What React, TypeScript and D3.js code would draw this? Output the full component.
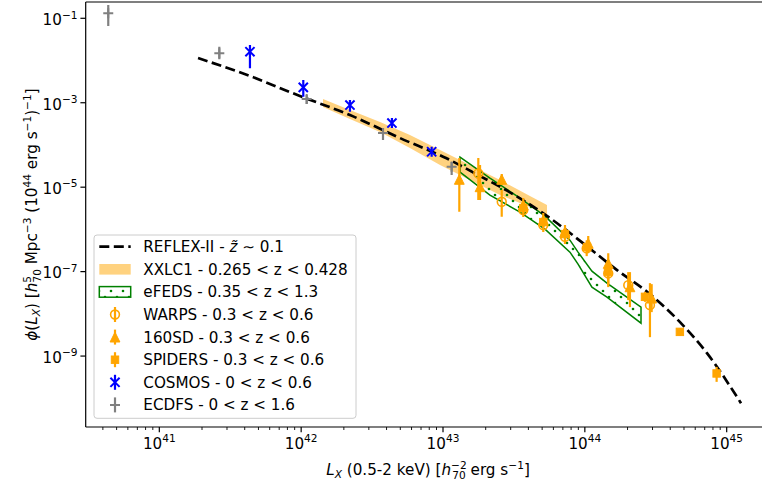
import React from 'react';
import * as d3 from 'd3';

const W = 762;
const H = 487;
const PL = 85.7, PR = 763, PT = 2, PB = 427;

// ---------- data (log10 values) ----------
// REFLEX-II dashed curve
const reflexLgL = [41.273, 41.639, 41.991, 42.344, 42.696, 43.021, 43.261, 43.493, 43.754, 43.987, 44.227, 44.459, 44.671, 44.861, 45.101];
const reflexLgPhi = [-1.941, -2.367, -2.841, -3.291, -3.836, -4.310, -4.737, -5.163, -5.732, -6.325, -6.964, -7.533, -8.197, -8.931, -10.116];

// XXLC1 band
const xxlLgL = [42.154, 42.344, 42.556, 42.767, 42.979, 43.190, 43.402, 43.613, 43.733];
const xxlLgHi = [-2.912, -3.173, -3.457, -3.765, -4.121, -4.476, -4.832, -5.211, -5.424];
const xxlLgLo = [-3.102, -3.386, -3.694, -4.073, -4.476, -4.832, -5.187, -5.472, -5.661];

// eFEDS band
const efedsLgL = [43.120, 43.331, 43.543, 43.719, 43.895, 43.952, 44.050, 44.156, 44.396];
const efedsLgHi = [-4.287, -4.785, -5.258, -5.685, -6.254, -6.538, -6.988, -7.273, -7.841];
const efedsLgLo = [-4.642, -5.187, -5.590, -5.993, -6.538, -6.822, -7.367, -7.604, -8.220];

// WARPS
const warpsLgL = [43.249, 43.414, 43.566, 43.707, 43.860, 44.013, 44.165, 44.306, 44.459];
const warpsLgPhi = [-4.673, -5.346, -5.543, -5.898, -6.175, -6.450, -7.043, -7.320, -7.794];
const warpsLgHi = [-4.310, -5.069, -5.377, -5.732, -5.993, -6.254, -6.775, -7.012, -7.273];
const warpsLgLo = [-5.306, -5.701, -5.709, -6.064, -6.348, -6.633, -7.320, -7.676, -8.552];

// 160SD
const sdLgL = [43.115, 43.261, 43.414, 43.566, 43.707, 43.860, 44.024, 44.165, 44.318, 44.471];
const sdLgPhi = [-4.815, -4.991, -4.815, -5.424, -5.780, -6.057, -6.332, -6.806, -7.360, -7.628];
const sdLgHi = [-4.310, -4.476, -4.690, -5.258, -5.614, -5.898, -6.159, -6.562, -7.012, -7.296];
const sdLgLo = [-5.583, -5.306, -4.950, -5.614, -5.945, -6.230, -6.538, -7.367, -7.841, -7.959];

// SPIDERS
const spLgL = [43.566, 43.707, 43.860, 44.015, 44.163, 44.424, 44.670, 44.929];
const spLgPhi = [-5.495, -5.827, -6.111, -6.419, -7.012, -7.597, -8.427, -9.412];
const spLgHi = [-5.377, -5.709, -5.993, -6.301, -6.846, -7.479, -8.339, -9.256];
const spLgLo = [-5.614, -5.945, -6.230, -6.538, -7.178, -7.716, -8.512, -9.611];

// COSMOS
const cosLgL = [41.639, 42.015, 42.344, 42.640, 42.920];
const cosLgPhi = [-1.791, -2.635, -3.055, -3.481, -4.161];
const cosLgHi = [-1.633, -2.462, -2.936, -3.363, -4.043];
const cosLgLo = [-2.185, -2.858, -3.213, -3.600, -4.280];

// ECDFS
const ecLgL = [40.640, 41.423, 42.039, 42.577, 43.061];
const ecLgPhi = [-0.882, -1.829, -2.912, -3.718, -4.517];
const ecLgHi = [-0.685, -1.673, -2.818, -3.600, -4.398];
const ecLgLo = [-1.182, -1.972, -3.031, -3.884, -4.713];

const xTickExps = [41, 42, 43, 44, 45];
const yTickExps = [-1, -3, -5, -7, -9];

const legendLabels = [
  'REFLEX-II',
  'XXLC1 - 0.265 < z < 0.428',
  'eFEDS - 0.35 < z < 1.3',
  'WARPS - 0.3 < z < 0.6',
  '160SD - 0.3 < z < 0.6',
  'SPIDERS - 0.3 < z < 0.6',
  'COSMOS - 0 < z < 0.6',
  'ECDFS - 0 < z < 1.6',
];

const ORANGE = '#FFA500';
const GREEN = '#008000';
const BLUE = '#0000FF';
const GRAY = '#808080';
const FS = 15.2;
const SFS = 10.6;

const p10 = (v: number) => Math.pow(10, v);

const x = d3.scaleLog().domain([p10(40.481), p10(45.256)]).range([PL, PR]);
const y = d3.scaleLog().domain([p10(-10.68), p10(-0.614)]).range([PB, PT]);

type Pt = { L: number; phi: number; hi: number; lo: number };
const pts = (L: number[], p: number[], hi: number[], lo: number[]): Pt[] =>
  L.map((v, i) => ({ L: p10(v), phi: p10(p[i]), hi: p10(hi[i]), lo: p10(lo[i]) }));

const warps = pts(warpsLgL, warpsLgPhi, warpsLgHi, warpsLgLo);
const sd160 = pts(sdLgL, sdLgPhi, sdLgHi, sdLgLo);
const spiders = pts(spLgL, spLgPhi, spLgHi, spLgLo);
const cosmos = pts(cosLgL, cosLgPhi, cosLgHi, cosLgLo);
const ecdfs = pts(ecLgL, ecLgPhi, ecLgHi, ecLgLo);

const band = (L: number[], hi: number[], lo: number[]) =>
  L.map((v, i) => ({ L: p10(v), hi: p10(hi[i]), lo: p10(lo[i]) }));

const areaGen = d3
  .area<{ L: number; hi: number; lo: number }>()
  .x((d) => x(d.L))
  .y0((d) => y(d.lo))
  .y1((d) => y(d.hi));

const lineGen = d3
  .line<{ L: number; phi: number }>()
  .x((d) => x(d.L))
  .y((d) => y(d.phi))
  .curve(d3.curveMonotoneX);

const reflex = reflexLgL.map((v, i) => ({ L: p10(v), phi: p10(reflexLgPhi[i]) }));

type MarkerKind = 'circle' | 'tri' | 'square' | 'x' | 'plus';

const Marker = ({ kind, cx, cy, color }: { kind: MarkerKind; cx: number; cy: number; color: string }) => {
  if (kind === 'circle')
    return <circle cx={cx} cy={cy} r={4.4} fill="none" stroke={color} strokeWidth={1.6} />;
  if (kind === 'tri') {
    const s = 4.9;
    return <path d={`M${cx},${cy - s}L${cx - s},${cy + s}L${cx + s},${cy + s}Z`} fill={color} stroke={color} strokeWidth={1} />;
  }
  if (kind === 'square') {
    const s = 3.7;
    return <rect x={cx - s} y={cy - s} width={2 * s} height={2 * s} fill={color} stroke={color} strokeWidth={1} />;
  }
  if (kind === 'x') {
    const s = 4.6;
    return (
      <path d={`M${cx - s},${cy - s}L${cx + s},${cy + s}M${cx - s},${cy + s}L${cx + s},${cy - s}`} stroke={color} strokeWidth={2} fill="none" />
    );
  }
  const s = 5;
  return <path d={`M${cx - s},${cy}L${cx + s},${cy}M${cx},${cy - s}L${cx},${cy + s}`} stroke={color} strokeWidth={2} fill="none" />;
};

const Series = ({ data, kind, color }: { data: Pt[]; kind: MarkerKind; color: string }) => (
  <g>
    {data.map((d, i) => (
      <line key={'e' + i} x1={x(d.L)} x2={x(d.L)} y1={y(d.hi)} y2={y(d.lo)} stroke={color} strokeWidth={2.2} />
    ))}
    {data.map((d, i) => (
      <Marker key={'m' + i} kind={kind} cx={x(d.L)} cy={y(d.phi)} color={color} />
    ))}
  </g>
);

export default function App() {
  const xMinor: number[] = [];
  for (let e = 40; e <= 45; e++) {
    for (let m = 2; m <= 9; m++) {
      const v = m * p10(e);
      if (v >= x.domain()[0] && v <= x.domain()[1]) xMinor.push(v);
    }
  }
  const legX = 94, legY = 235, legW = 262, legH = 183.3;
  const rowY = (i: number) => 246.7 + 22.6 * i;
  const hx0 = 99.3, hx1 = 130.7, hc = 115;
  const legMarkers: { kind: MarkerKind; color: string }[] = [
    { kind: 'circle', color: ORANGE },
    { kind: 'tri', color: ORANGE },
    { kind: 'square', color: ORANGE },
    { kind: 'x', color: BLUE },
    { kind: 'plus', color: GRAY },
  ];

  return (
    <svg
      width={W}
      height={H}
      style={{ position: 'absolute', left: 0, top: 0, background: '#fff' }}
      fontFamily="'DejaVu Sans', sans-serif"
    >
      <defs>
        <pattern id="dots" width={12} height={12} patternUnits="userSpaceOnUse">
          <circle cx={3} cy={3} r={1.3} fill={GREEN} />
          <circle cx={9} cy={9} r={1.3} fill={GREEN} />
        </pattern>
        <clipPath id="plotclip">
          <rect x={PL} y={PT} width={PR - PL} height={PB - PT} />
        </clipPath>
      </defs>
      <rect x={0} y={0} width={W} height={H} fill="#fff" />

      <g clipPath="url(#plotclip)">
        <path d={areaGen(band(xxlLgL, xxlLgHi, xxlLgLo)) || ''} fill={ORANGE} fillOpacity={0.5} />
        <path d={areaGen(band(efedsLgL, efedsLgHi, efedsLgLo)) || ''} fill="url(#dots)" stroke={GREEN} strokeWidth={1.5} />
        <path d={lineGen(reflex) || ''} fill="none" stroke="#000" strokeWidth={2.7} strokeDasharray="10,4.5" />
        <Series data={warps} kind="circle" color={ORANGE} />
        <Series data={sd160} kind="tri" color={ORANGE} />
        <Series data={spiders} kind="square" color={ORANGE} />
        <Series data={cosmos} kind="x" color={BLUE} />
        <Series data={ecdfs} kind="plus" color={GRAY} />
      </g>

      {/* axes */}
      <line x1={PL} x2={PL} y1={PT} y2={PB} stroke="#000" strokeWidth={1.2} />
      <line x1={PL} x2={W} y1={PB} y2={PB} stroke="#000" strokeWidth={1.2} />
      <line x1={PL} x2={W} y1={PT} y2={PT} stroke="#000" strokeWidth={1.2} />

      {xTickExps.map((e) => (
        <g key={'xt' + e}>
          <line x1={x(p10(e))} x2={x(p10(e))} y1={PB} y2={PB + 5.3} stroke="#000" strokeWidth={1.2} />
          <text x={x(p10(e))} y={448.5} textAnchor="middle" fontSize={FS} fill="#000">
            10<tspan fontSize={SFS} dy={-6.5}>{e}</tspan>
          </text>
        </g>
      ))}
      {xMinor.map((v, i) => (
        <line key={'xm' + i} x1={x(v)} x2={x(v)} y1={PB} y2={PB + 3} stroke="#000" strokeWidth={0.9} />
      ))}
      {yTickExps.map((e) => (
        <g key={'yt' + e}>
          <line x1={PL - 5.3} x2={PL} y1={y(p10(e))} y2={y(p10(e))} stroke="#000" strokeWidth={1.2} />
          <text x={77.5} y={y(p10(e)) + 6.8} textAnchor="end" fontSize={FS} fill="#000">
            10<tspan fontSize={SFS} dy={-6.5}>{'\u2212' + Math.abs(e)}</tspan>
          </text>
        </g>
      ))}

      {/* x label */}
      <text x={428} y={475} textAnchor="middle" fontSize={FS} fill="#000">
        <tspan fontStyle="italic">L</tspan>
        <tspan fontSize={SFS} dy={2.8} fontStyle="italic">X</tspan>
        <tspan dy={-2.8}> (0.5-2 keV) [</tspan>
        <tspan fontStyle="italic">h</tspan>
        <tspan fontSize={SFS} dy={-6}>{'\u22122'}</tspan>
        <tspan fontSize={SFS} dx={-14.5} dy={9.8}>70</tspan>
        <tspan dy={-3.8}> erg s</tspan>
        <tspan fontSize={SFS} dy={-6}>{'\u22121'}</tspan>
        <tspan dy={6}>]</tspan>
      </text>

      {/* y label */}
      <text transform={`translate(37,${(PT + PB) / 2}) rotate(-90)`} textAnchor="middle" fontSize={FS} fill="#000">
        <tspan fontStyle="italic">{'\u03D5'}</tspan>
        <tspan>(</tspan>
        <tspan fontStyle="italic">L</tspan>
        <tspan fontSize={SFS} dy={2.8} fontStyle="italic">X</tspan>
        <tspan dy={-2.8}>) [</tspan>
        <tspan fontStyle="italic">h</tspan>
        <tspan fontSize={SFS} dy={-6}>5</tspan>
        <tspan fontSize={SFS} dx={-6.7} dy={9.8}>70</tspan>
        <tspan dy={-3.8}> Mpc</tspan>
        <tspan fontSize={SFS} dy={-6}>{'\u22123'}</tspan>
        <tspan dy={6}> (10</tspan>
        <tspan fontSize={SFS} dy={-6}>44</tspan>
        <tspan dy={6}> erg s</tspan>
        <tspan fontSize={SFS} dy={-6}>{'\u22121'}</tspan>
        <tspan dy={6}>)</tspan>
        <tspan fontSize={SFS} dy={-6}>{'\u22121'}</tspan>
        <tspan dy={6}>]</tspan>
      </text>

      {/* legend */}
      <rect x={legX} y={legY} width={legW} height={legH} rx={3} fill="#fff" fillOpacity={0.8} stroke="#cccccc" strokeWidth={1} />
      <line x1={hx0} x2={hx1} y1={rowY(0)} y2={rowY(0)} stroke="#000" strokeWidth={2.7} strokeDasharray="10,4.5" />
      <rect x={hx0} y={rowY(1) - 5.3} width={hx1 - hx0} height={10.6} fill={ORANGE} fillOpacity={0.5} />
      <rect x={hx0} y={rowY(2) - 5.3} width={hx1 - hx0} height={10.6} fill="url(#dots)" stroke={GREEN} strokeWidth={1.5} />
      {legMarkers.map((m, i) => {
        const cy = rowY(i + 3);
        return (
          <g key={'lm' + i}>
            <line x1={hc} x2={hc} y1={cy - 7.5} y2={cy + 7.5} stroke={m.color} strokeWidth={2.2} />
            <Marker kind={m.kind} cx={hc} cy={cy} color={m.color} />
          </g>
        );
      })}
      {legendLabels.map((t, i) => (
        <text key={'lt' + i} x={143.3} y={rowY(i) + 5.5} fontSize={FS} fill="#000">
          {i === 0 ? (
            <>
              {t} - <tspan fontStyle="italic">{'z\u0303'}</tspan> {'\u223C'} 0.1
            </>
          ) : (
            t
          )}
        </text>
      ))}
    </svg>
  );
}
